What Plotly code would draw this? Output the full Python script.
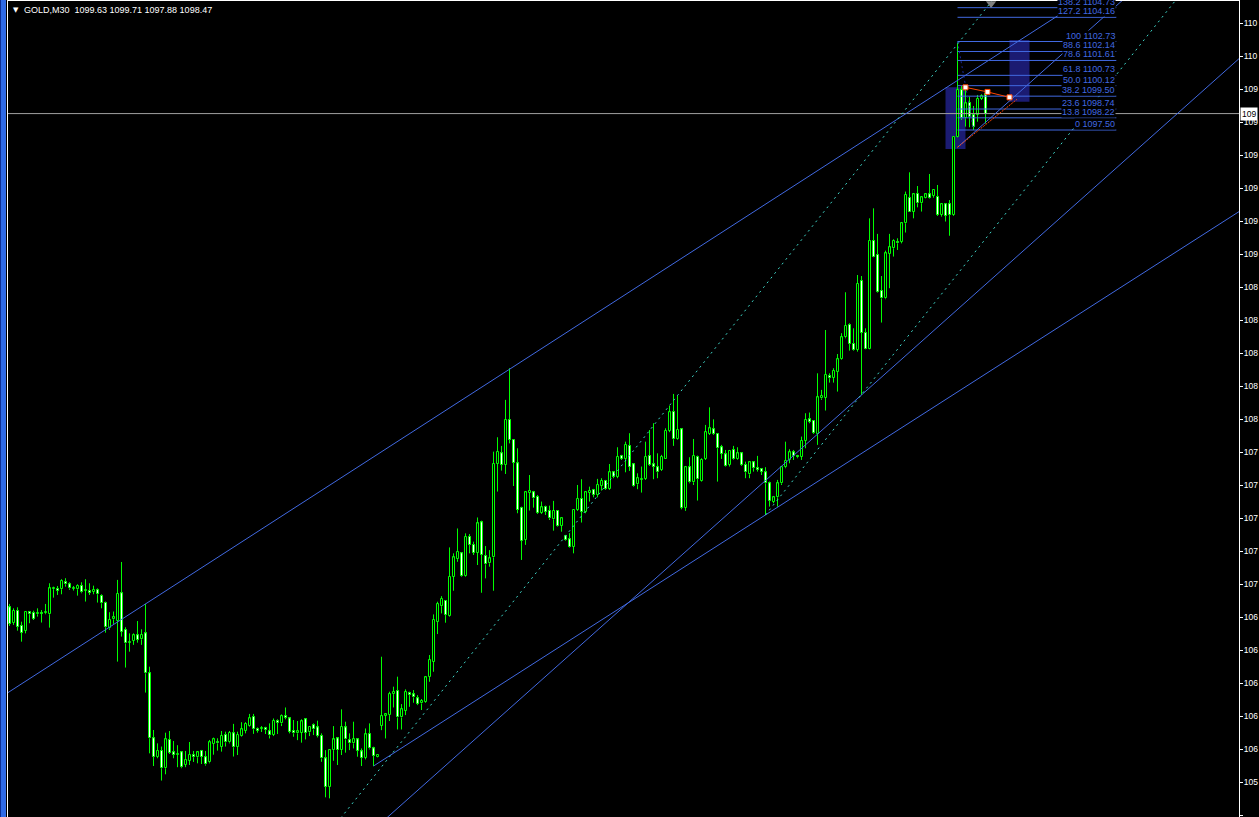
import plotly.graph_objects as go

# GOLD M30 candles (bar index = position from the left edge)
open_ = [
    1069.29, 1068.39, 1069.07, 1068.19, 1067.91, 1069.02, 1068.98, 1068.88, 1068.98, 1068.94,
    1068.88, 1070.36, 1070.38, 1070.36, 1070.81, 1070.65, 1070.39, 1070.36, 1070.55, 1070.26,
    1070.28, 1070.22, 1070.32, 1069.98, 1069.57, 1068.05, 1068.58, 1068.50, 1070.12, 1067.95,
    1067.20, 1067.32, 1067.64, 1067.40, 1067.75, 1065.39, 1061.55, 1060.47, 1060.80, 1059.78,
    1061.45, 1060.72, 1060.56, 1060.72, 1059.97, 1060.23, 1060.56, 1060.43, 1060.80, 1060.43,
    1060.13, 1061.21, 1061.29, 1061.06, 1061.75, 1061.31, 1061.84, 1061.06, 1061.71, 1062.00,
    1062.28, 1062.83, 1062.11, 1062.11, 1062.17, 1061.96, 1061.74, 1062.59, 1062.43, 1062.86,
    1062.72, 1062.00, 1061.84, 1061.88, 1062.67, 1061.90, 1062.33, 1062.19, 1061.70, 1060.36,
    1058.69, 1060.85, 1061.54, 1060.85, 1062.19, 1061.44, 1061.25, 1061.48, 1060.77, 1060.40,
    1061.80, 1060.95, 1060.46, 1062.29, 1062.88, 1062.92, 1064.16, 1064.34, 1062.78, 1063.18,
    1064.24, 1064.14, 1063.91, 1063.61, 1063.71, 1065.19, 1066.07, 1068.44, 1069.36, 1069.68,
    1068.77, 1071.10, 1072.14, 1072.48, 1071.14, 1073.46, 1072.97, 1072.52, 1074.31, 1072.32,
    1071.89, 1072.24, 1077.76, 1078.39, 1077.70, 1080.36, 1079.18, 1077.80, 1075.18, 1073.27,
    1076.07, 1076.09, 1075.83, 1074.89, 1075.24, 1074.99, 1074.49, 1074.99, 1074.12, 1073.51,
    1073.31, 1072.88, 1075.04, 1075.70, 1074.95, 1076.07, 1076.23, 1075.93, 1076.46, 1076.78,
    1076.29, 1077.27, 1077.01, 1078.24, 1078.06, 1078.85, 1077.74, 1076.56, 1076.82, 1076.88,
    1078.26, 1077.74, 1077.57, 1077.41, 1078.06, 1079.71, 1080.86, 1079.22, 1079.81, 1075.18,
    1077.57, 1076.68, 1078.20, 1076.78, 1078.06, 1079.54, 1079.81, 1079.54, 1078.75, 1078.33,
    1077.70, 1078.59, 1078.04, 1078.39, 1077.70, 1077.15, 1077.86, 1077.51, 1077.47, 1077.27,
    1076.62, 1075.54, 1075.79, 1076.62, 1077.57, 1078.00, 1078.45, 1078.26, 1078.20, 1079.12,
    1080.40, 1080.30, 1079.54, 1081.64, 1081.68, 1082.96, 1082.87, 1083.22, 1083.95, 1085.25,
    1085.98, 1084.86, 1084.50, 1088.58, 1085.53, 1084.56, 1090.96, 1090.12, 1087.99, 1087.55,
    1090.17, 1090.51, 1090.90, 1090.90, 1091.99, 1093.50, 1092.68, 1093.72, 1093.17, 1093.50,
    1093.70, 1093.60, 1093.56, 1092.48, 1093.11, 1093.12, 1092.47, 1097.10, 1099.86, 1098.19,
    1099.11, 1098.38, 1098.38, 1099.33, 1099.63,
]
high = [
    1069.49, 1069.23, 1069.29, 1068.44, 1069.07, 1069.02, 1069.09, 1069.23, 1069.13, 1069.49,
    1070.71, 1070.51, 1070.55, 1070.95, 1071.01, 1070.77, 1070.55, 1070.65, 1070.77, 1070.95,
    1070.71, 1070.57, 1070.41, 1070.06, 1069.63, 1069.00, 1069.04, 1070.91, 1071.97, 1068.11,
    1067.75, 1067.75, 1068.48, 1067.99, 1069.49, 1065.78, 1062.04, 1061.25, 1061.06, 1061.88,
    1061.98, 1061.39, 1061.14, 1060.76, 1060.80, 1061.33, 1060.80, 1060.80, 1060.86, 1060.80,
    1061.45, 1061.59, 1061.55, 1061.98, 1061.94, 1061.98, 1062.40, 1061.94, 1062.50, 1062.50,
    1062.99, 1062.99, 1062.19, 1062.27, 1062.23, 1062.43, 1062.72, 1062.67, 1062.96, 1063.37,
    1062.78, 1062.63, 1062.57, 1062.67, 1062.72, 1062.27, 1062.43, 1062.59, 1061.84, 1060.85,
    1060.89, 1062.27, 1061.60, 1063.26, 1062.53, 1061.84, 1062.53, 1061.54, 1060.95, 1062.13,
    1062.43, 1061.05, 1060.56, 1066.37, 1063.02, 1064.30, 1064.60, 1065.19, 1063.57, 1064.44,
    1064.30, 1064.40, 1064.10, 1063.87, 1065.23, 1066.47, 1068.87, 1069.62, 1069.95, 1069.72,
    1072.83, 1072.48, 1073.95, 1072.52, 1073.66, 1073.62, 1073.17, 1074.60, 1074.41, 1072.91,
    1072.67, 1078.49, 1079.34, 1078.83, 1081.55, 1083.42, 1079.22, 1078.69, 1075.24, 1076.13,
    1077.11, 1076.17, 1075.93, 1075.54, 1075.30, 1075.30, 1075.58, 1075.04, 1074.61, 1073.57,
    1073.67, 1075.10, 1076.52, 1076.86, 1076.13, 1076.42, 1076.29, 1076.88, 1076.92, 1076.82,
    1077.76, 1077.31, 1078.75, 1078.30, 1079.08, 1079.58, 1077.80, 1077.21, 1077.61, 1079.08,
    1079.77, 1080.17, 1078.39, 1078.30, 1079.87, 1081.21, 1081.90, 1081.80, 1079.87, 1077.61,
    1078.16, 1079.24, 1078.26, 1078.10, 1080.07, 1081.11, 1080.40, 1079.58, 1078.89, 1078.59,
    1078.59, 1078.83, 1078.75, 1078.43, 1077.90, 1077.90, 1077.90, 1078.24, 1077.51, 1077.57,
    1076.72, 1075.87, 1076.82, 1077.61, 1079.08, 1078.63, 1078.59, 1078.30, 1079.38, 1080.76,
    1080.80, 1080.36, 1083.12, 1082.14, 1085.68, 1083.12, 1083.42, 1084.26, 1085.49, 1087.91,
    1086.08, 1085.78, 1088.93, 1088.87, 1085.78, 1092.28, 1092.87, 1091.36, 1088.87, 1090.37,
    1091.36, 1091.04, 1091.10, 1092.03, 1093.86, 1095.00, 1093.76, 1094.19, 1093.60, 1093.76,
    1094.90, 1094.00, 1094.25, 1093.17, 1093.17, 1093.36, 1097.14, 1102.73, 1100.10, 1100.02,
    1099.47, 1098.92, 1099.57, 1099.61, 1099.71,
]
low = [
    1068.19, 1068.25, 1067.91, 1067.26, 1067.75, 1068.35, 1068.54, 1068.74, 1068.39, 1068.88,
    1068.09, 1069.86, 1070.02, 1070.06, 1070.51, 1070.32, 1070.28, 1069.98, 1070.12, 1069.63,
    1070.02, 1070.06, 1069.57, 1069.23, 1067.79, 1067.95, 1068.31, 1066.08, 1067.56, 1065.73,
    1066.67, 1067.07, 1067.20, 1067.07, 1064.25, 1060.66, 1059.91, 1060.37, 1059.05, 1059.42,
    1060.62, 1060.37, 1059.84, 1059.78, 1059.84, 1059.97, 1060.15, 1060.07, 1060.03, 1059.93,
    1060.07, 1060.58, 1060.82, 1060.76, 1061.06, 1061.25, 1060.47, 1060.56, 1061.65, 1061.84,
    1062.24, 1061.81, 1061.88, 1061.92, 1061.80, 1061.54, 1061.68, 1061.80, 1062.27, 1062.67,
    1061.84, 1061.64, 1061.44, 1061.29, 1061.48, 1061.68, 1061.74, 1061.60, 1060.16, 1058.06,
    1058.00, 1060.22, 1059.97, 1060.56, 1060.70, 1060.85, 1060.95, 1060.46, 1059.91, 1060.30,
    1060.89, 1059.91, 1060.42, 1062.03, 1061.54, 1062.57, 1063.37, 1062.07, 1062.07, 1062.92,
    1063.41, 1063.65, 1063.51, 1063.22, 1063.65, 1064.89, 1065.48, 1067.71, 1068.93, 1068.38,
    1068.73, 1070.27, 1071.98, 1071.10, 1071.10, 1072.48, 1072.38, 1071.79, 1070.15, 1071.00,
    1071.69, 1070.27, 1076.13, 1077.37, 1077.17, 1078.98, 1076.46, 1074.85, 1072.09, 1072.98,
    1075.01, 1075.18, 1074.81, 1074.81, 1074.75, 1074.45, 1073.82, 1074.06, 1073.76, 1073.23,
    1072.82, 1072.48, 1074.99, 1074.30, 1074.85, 1075.54, 1075.79, 1075.79, 1076.19, 1076.23,
    1076.23, 1076.92, 1076.92, 1078.00, 1077.27, 1077.35, 1076.42, 1076.27, 1076.07, 1076.82,
    1077.65, 1076.86, 1076.92, 1077.35, 1078.06, 1079.64, 1078.83, 1079.18, 1075.08, 1074.99,
    1076.62, 1076.52, 1075.60, 1076.72, 1078.00, 1079.48, 1079.48, 1076.72, 1078.06, 1077.61,
    1077.61, 1078.00, 1078.00, 1077.65, 1076.92, 1076.92, 1077.31, 1077.31, 1077.11, 1074.75,
    1075.24, 1075.44, 1075.24, 1076.52, 1077.51, 1077.80, 1078.00, 1078.10, 1078.00, 1078.69,
    1080.17, 1079.54, 1078.89, 1081.55, 1080.92, 1082.57, 1082.57, 1082.04, 1083.91, 1085.19,
    1084.46, 1084.46, 1084.40, 1081.84, 1084.54, 1084.54, 1089.98, 1087.89, 1086.12, 1087.50,
    1088.15, 1090.02, 1090.41, 1090.80, 1091.44, 1092.68, 1092.28, 1092.93, 1092.68, 1093.46,
    1093.43, 1093.50, 1092.42, 1092.38, 1092.09, 1091.25, 1092.42, 1097.06, 1098.09, 1097.70,
    1097.66, 1097.50, 1097.99, 1099.27, 1097.88,
]
close = [
    1068.31, 1069.09, 1068.15, 1067.79, 1069.02, 1068.88, 1068.62, 1068.98, 1068.90, 1068.94,
    1070.41, 1070.36, 1070.28, 1070.85, 1070.65, 1070.41, 1070.45, 1070.55, 1070.18, 1070.26,
    1070.16, 1070.32, 1070.06, 1069.53, 1068.11, 1068.54, 1068.70, 1070.08, 1067.85, 1067.16,
    1067.20, 1067.64, 1067.36, 1067.66, 1065.39, 1061.55, 1060.47, 1060.80, 1059.78, 1061.49,
    1060.70, 1060.56, 1060.56, 1059.84, 1060.27, 1060.56, 1060.43, 1060.72, 1060.47, 1060.01,
    1061.31, 1061.49, 1061.25, 1061.69, 1061.31, 1061.88, 1061.02, 1061.75, 1062.08, 1062.40,
    1062.73, 1062.08, 1062.00, 1062.11, 1062.03, 1061.72, 1062.57, 1062.47, 1062.86, 1062.76,
    1061.94, 1061.84, 1061.96, 1062.55, 1061.88, 1062.23, 1062.07, 1061.68, 1060.36, 1058.69,
    1060.85, 1061.48, 1060.85, 1062.23, 1061.48, 1061.25, 1061.50, 1060.81, 1060.40, 1061.78,
    1060.95, 1060.50, 1060.56, 1062.86, 1062.96, 1064.16, 1064.28, 1062.78, 1063.26, 1064.28,
    1064.10, 1063.97, 1063.57, 1063.75, 1065.15, 1066.17, 1068.54, 1069.48, 1069.78, 1068.83,
    1071.10, 1072.24, 1072.57, 1071.16, 1073.46, 1072.97, 1072.52, 1074.25, 1072.38, 1071.83,
    1072.18, 1077.76, 1078.49, 1077.70, 1080.36, 1079.18, 1077.84, 1075.04, 1073.21, 1076.09,
    1076.17, 1075.73, 1074.89, 1075.20, 1074.95, 1074.55, 1074.99, 1074.12, 1074.55, 1073.27,
    1072.88, 1075.04, 1075.70, 1074.95, 1076.09, 1076.17, 1075.93, 1076.52, 1076.78, 1076.29,
    1077.27, 1077.01, 1078.20, 1078.06, 1078.89, 1077.61, 1076.48, 1076.92, 1076.82, 1078.20,
    1077.70, 1077.61, 1077.27, 1078.20, 1079.71, 1080.82, 1079.22, 1079.77, 1075.18, 1077.57,
    1076.68, 1078.26, 1076.86, 1078.00, 1079.64, 1079.87, 1079.54, 1078.69, 1078.35, 1077.65,
    1078.53, 1078.04, 1078.39, 1077.70, 1077.27, 1077.86, 1077.51, 1077.41, 1077.31, 1076.62,
    1075.60, 1075.79, 1076.62, 1077.57, 1077.96, 1078.45, 1078.24, 1078.16, 1079.12, 1080.36,
    1080.27, 1079.62, 1081.70, 1081.78, 1083.02, 1082.83, 1083.26, 1083.95, 1085.25, 1085.92,
    1084.86, 1084.50, 1088.40, 1085.53, 1084.56, 1090.94, 1090.02, 1087.95, 1087.55, 1090.21,
    1090.57, 1090.94, 1090.80, 1091.99, 1093.66, 1092.68, 1093.70, 1093.17, 1093.52, 1093.70,
    1093.46, 1093.96, 1092.48, 1093.11, 1092.44, 1092.47, 1097.10, 1099.86, 1098.19, 1099.07,
    1098.25, 1097.70, 1099.33, 1099.53, 1098.47,
]

# price scale on the right; only the first three characters fit in the strip
tick_vals = [1103.80, 1101.85, 1099.90, 1097.95, 1096.00, 1094.05, 1092.10, 1090.15, 1088.20,
             1086.25, 1084.30, 1082.35, 1080.40, 1078.45, 1076.50, 1074.55, 1072.60, 1070.65,
             1068.70, 1066.75, 1064.80, 1062.85, 1060.90, 1058.95, 1057.00]
tick_text = [f'{v:.2f}'[:3] for v in tick_vals]
last_price = 1098.47

# fibonacci retracement
fib_levels = ['0', '13.8', '23.6', '38.2', '50.0', '61.8', '78.6', '88.6', '100', '127.2', '138.2']
fib_prices = [1097.50, 1098.22, 1098.74, 1099.50, 1100.12, 1100.73, 1101.61, 1102.14, 1102.73,
              1104.16, 1104.73]
fib_from, fib_to = 237, 276.7
fib_diag = [(237, 1102.73), (241, 1097.50)]

# trend lines, (bar, price) anchors
chan_upper = [(34, 1069.49), (125, 1083.36)]
chan_lower = [(91, 1059.91), (189, 1074.75)]
steep_line = [(178.1, 1074.49), (213, 1081.84)]
steep_copy_start = (237, 1096.48)   # parallel copy of the steep line, drawn to the right
dot_upper = [(86.7, 1057.99), (213.25, 1095.53)]
dot_lower_start = (189, 1074.75)

tri_x = [239, 244.5, 250]
tri_y = [1100.02, 1099.75, 1099.43]
red_x = [237, 251.85]
red_y = [1096.48, 1099.31]

# rectangles: bar from, bar to, price low, price high
boxes = [(234, 239, 1096.38, 1100.02), (250, 255, 1099.17, 1102.82)]

X_MIN, X_MAX = -0.375, 307.375
Y_MIN, Y_MAX = 1056.897, 1105.124

GREEN = '#00ff00'
BLUE = '#4169e1'
AQUA = '#3fd6c8'
FONT = 'Liberation Sans'


def extend(p0, p1, x_from, x_to):
    k = (p1[1] - p0[1]) / (p1[0] - p0[0])
    return [x_from, x_to], [p0[1] + k * (x_from - p0[0]), p0[1] + k * (x_to - p0[0])]


def parallel(start, pts, x_to):
    k = (pts[1][1] - pts[0][1]) / (pts[1][0] - pts[0][0])
    return [start[0], x_to], [start[1], start[1] + k * (x_to - start[0])]


idx = list(range(len(open_)))
body_lo = [min(o, c) for o, c in zip(open_, close)]
body_hi = [max(o, c) for o, c in zip(open_, close)]
body_h = [max(h - l, 0.055) for h, l in zip(body_hi, body_lo)]
# Green-on-Black scheme: bear bodies white, bull bodies black
body_fill = ['white' if c < o else 'black' for o, c in zip(open_, close)]

wx, wy = [], []
for i in idx:
    if high[i] > body_hi[i]:
        wx += [i, i, None]
        wy += [body_hi[i], high[i], None]
    if low[i] < body_lo[i]:
        wx += [i, i, None]
        wy += [low[i], body_lo[i], None]

fig = go.Figure()

fig.add_trace(go.Bar(
    x=idx, y=body_h, base=body_lo, width=0.5,
    marker=dict(color=body_fill, line=dict(color=GREEN, width=1)),
    hoverinfo='skip'
))
fig.add_trace(go.Scatter(x=wx, y=wy, mode='lines', line=dict(color=GREEN, width=1),
                         hoverinfo='skip'))

# current price line
fig.add_trace(go.Scatter(x=[X_MIN - 1, X_MAX + 1], y=[last_price, last_price], mode='lines',
                         line=dict(color='#a0a0a0', width=1), hoverinfo='skip'))

# channel and trend lines
for pts, x0 in [(chan_upper, -2), (chan_lower, chan_lower[0][0]), (steep_line, 80)]:
    lx, ly = extend(pts[0], pts[1], x0, 320)
    fig.add_trace(go.Scatter(x=lx, y=ly, mode='lines', line=dict(color=BLUE, width=1),
                             hoverinfo='skip'))
lx, ly = parallel(steep_copy_start, steep_line, 320)
fig.add_trace(go.Scatter(x=lx, y=ly, mode='lines', line=dict(color=BLUE, width=1),
                         hoverinfo='skip'))

lx, ly = extend(dot_upper[0], dot_upper[1], 80, 320)
fig.add_trace(go.Scatter(x=lx, y=ly, mode='lines', line=dict(color=AQUA, width=1, dash='2px,4px'),
                         hoverinfo='skip'))
lx, ly = parallel(dot_lower_start, dot_upper, 320)
fig.add_trace(go.Scatter(x=lx, y=ly, mode='lines', line=dict(color=AQUA, width=1, dash='2px,4px'),
                         hoverinfo='skip'))

# fibonacci levels
for p in fib_prices:
    fig.add_trace(go.Scatter(x=[fib_from, fib_to], y=[p, p], mode='lines',
                             line=dict(color=BLUE, width=1), hoverinfo='skip'))
fig.add_trace(go.Scatter(x=[fib_diag[0][0], fib_diag[1][0]], y=[fib_diag[0][1], fib_diag[1][1]],
                         mode='lines', line=dict(color='#1c2a9c', width=1, dash='2px,3px'),
                         hoverinfo='skip'))

# triangle object (selected) and its lower edge
fig.add_trace(go.Scatter(x=red_x, y=red_y, mode='lines',
                         line=dict(color='#ff4500', width=1, dash='2px,1px'), hoverinfo='skip'))
fig.add_trace(go.Scatter(x=tri_x, y=tri_y, mode='lines+markers',
                         line=dict(color='#ff4500', width=1),
                         marker=dict(symbol='square', size=5, color='white',
                                     line=dict(color='#ff4500', width=1)),
                         hoverinfo='skip'))

# chart shift marker
fig.add_trace(go.Scatter(x=[245.4], y=[1104.98], mode='markers', cliponaxis=False,
                         marker=dict(symbol='triangle-down', size=9, color='#808080'),
                         hoverinfo='skip'))

shapes = []
for b0, b1, p0, p1 in boxes:
    shapes.append(dict(type='rect', xref='x', yref='y', x0=b0, x1=b1, y0=p0, y1=p1,
                       fillcolor='#1b1b72', line=dict(width=0), layer='below'))
# terminal window frame on the left
shapes.append(dict(type='rect', xref='paper', yref='paper', x0=-8 / 1231, x1=-2 / 1231,
                   y0=-0.01, y1=1.01, fillcolor='#2f6ae6', line=dict(width=0)))
shapes.append(dict(type='rect', xref='paper', yref='paper', x0=-8 / 1231, x1=-7 / 1231,
                   y0=-0.01, y1=1.01, fillcolor='#0d2f94', line=dict(width=0)))

annotations = []
for lvl, p in zip(fib_levels, fib_prices):
    annotations.append(dict(x=fib_to, y=p, xref='x', yref='y', text=f'{lvl} {p:.2f}',
                            showarrow=False, xanchor='right', yanchor='bottom', yshift=0,
                            bgcolor='black', borderpad=0,
                            font=dict(family=FONT, size=9, color=BLUE)))
annotations.append(dict(x=1, y=last_price, xref='paper', yref='y', text=f'{last_price:.2f}'[:3],
                        showarrow=False, xanchor='left', yanchor='middle', xshift=1,
                        bgcolor='white', borderpad=1,
                        font=dict(family=FONT, size=8.5, color='black')))
annotations.append(dict(x=0, y=1, xref='paper', yref='paper', text='\u25bc',
                        showarrow=False, xanchor='left', yanchor='top', xshift=3, yshift=-3,
                        font=dict(family='DejaVu Sans', size=7, color='white')))
annotations.append(dict(x=0, y=1, xref='paper', yref='paper',
                        text='GOLD,M30\u00a0\u00a01099.63 1099.71 1097.88 1098.47',
                        showarrow=False, xanchor='left', yanchor='top', xshift=14, yshift=-2,
                        font=dict(family=FONT, size=9, color='white')))

fig.update_layout(
    width=1259, height=817,
    margin=dict(l=8, r=20, t=1, b=0),
    paper_bgcolor='black', plot_bgcolor='black',
    showlegend=False, bargap=0,
    xaxis=dict(range=[X_MIN, X_MAX], showgrid=False, zeroline=False, showticklabels=False,
               ticks='', showline=True, linecolor='white', linewidth=1, side='top',
               automargin=False, fixedrange=True),
    yaxis=dict(range=[Y_MIN, Y_MAX], side='right', showgrid=False, zeroline=False,
               showline=True, mirror=True, linecolor='white', linewidth=1,
               ticks='outside', ticklen=3, tickcolor='white', tickwidth=1,
               ticklabelstandoff=-1,
               tickvals=tick_vals, ticktext=tick_text,
               tickfont=dict(family=FONT, size=8.5, color='white'),
               automargin=False, fixedrange=True),
    shapes=shapes,
    annotations=annotations,
)

fig.write_html("out.html", config={'displayModeBar': False},
               post_script="document.body.style.margin='0';document.body.style.overflow='hidden';")
